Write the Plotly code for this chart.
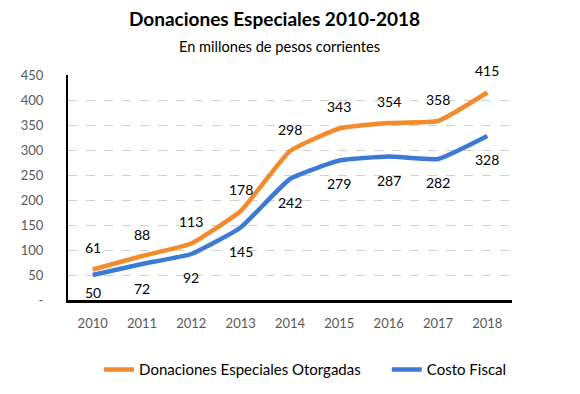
import plotly.graph_objects as go

years = [2010, 2011, 2012, 2013, 2014, 2015, 2016, 2017, 2018]
year_labels = ["2010", "2011", "2012", "2013", "2014", "2015", "2016", "2017", "2018"]
donaciones = [61, 88, 113, 178, 298, 343, 354, 358, 415]
costo_fiscal = [50, 72, 92, 145, 242, 279, 287, 282, 328]
y_tickvals = [0, 50, 100, 150, 200, 250, 300, 350, 400, 450]
y_ticktext = ["-", "50", "100", "150", "200", "250", "300", "350", "400", "450"]

# label offsets (pixels) — style only
don_shift = [22, 22, 22, 22, 22, 22, 22, 22, 22]
cf_shift = [-17, -24, -23, -24, -23, -23, -24, -23, -23]

ORANGE = "#F48A2E"
BLUE = "#3C7AD5"
FONT = "Lato"

fig = go.Figure()
fig.add_trace(go.Scatter(x=years, y=donaciones, mode="lines",
                         name="Donaciones Especiales Otorgadas", legend="legend",
                         line=dict(color=ORANGE, width=4.5, shape="spline", smoothing=0.4)))
fig.add_trace(go.Scatter(x=years, y=costo_fiscal, mode="lines",
                         name="Costo Fiscal", legend="legend2",
                         line=dict(color=BLUE, width=4.5, shape="spline", smoothing=0.4)))

for x, v, s in zip(years, donaciones, don_shift):
    fig.add_annotation(x=x, y=v, text=str(v), showarrow=False, yshift=s,
                       xanchor="center", yanchor="middle",
                       font=dict(family=FONT, size=14, color="#000000"))
for x, v, s in zip(years, costo_fiscal, cf_shift):
    fig.add_annotation(x=x, y=v, text=str(v), showarrow=False, yshift=s,
                       xanchor="center", yanchor="middle",
                       font=dict(family=FONT, size=14, color="#000000"))

fig.add_annotation(xref="paper", yref="paper", x=(274 - 68) / 444, y=1 + (75 - 19) / 225,
                   xanchor="center", yanchor="middle",
                   text="<b>Donaciones Especiales 2010-2018</b>", showarrow=False,
                   font=dict(family=FONT, size=19, color="#000000"))
fig.add_annotation(xref="paper", yref="paper", x=(279 - 68) / 444, y=1 + (75 - 46) / 225,
                   xanchor="center", yanchor="middle",
                   text="En millones de pesos corrientes", showarrow=False,
                   font=dict(family=FONT, size=14.6, color="#000000"))

legend_common = dict(orientation="h", y=-0.31, xanchor="left", yanchor="middle",
                     font=dict(family=FONT, size=15, color="#000000"), itemwidth=30,
                     bgcolor="rgba(0,0,0,0)")

fig.update_layout(
    width=580, height=394,
    margin=dict(l=60, r=76, t=67, b=102, autoexpand=False),
    paper_bgcolor="white", plot_bgcolor="white",
    font=dict(family=FONT, color="#595959"),
    showlegend=True,
    legend=dict(x=0.07, **legend_common),
    legend2=dict(x=0.718, **legend_common),
    xaxis=dict(type="linear", range=[years[0] - 0.5, years[-1] + 0.5],
               tickvals=years, ticktext=year_labels, automargin=False,
               showgrid=False, showline=True, linecolor="#000000", linewidth=3,
               ticks="", tickfont=dict(family=FONT, size=13, color="#595959"),
               ticklabelstandoff=9, fixedrange=True),
    yaxis=dict(range=[0, 450], tickvals=y_tickvals, ticktext=y_ticktext,
               automargin=False,
               showgrid=True, gridcolor="#D0D0D0", griddash="dash", gridwidth=1,
               showline=True, linecolor="#000000", linewidth=2, zeroline=False,
               ticks="", tickfont=dict(family=FONT, size=13, color="#595959"),
               ticklabelstandoff=20),
)

fig.write_html("out.html")
